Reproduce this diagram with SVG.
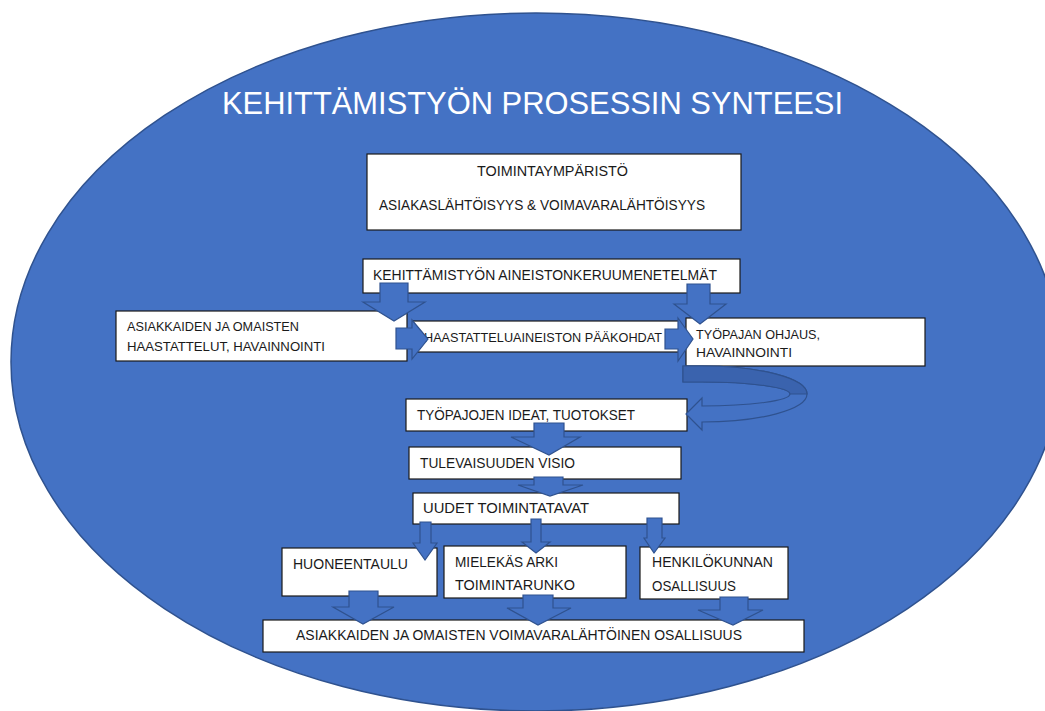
<svg xmlns="http://www.w3.org/2000/svg" width="1045" height="711" viewBox="0 0 1045 711">
<style>
.bg{fill:#4472C4;stroke:#2F528F;stroke-width:1.5}
.box{fill:#FFFFFF;stroke:#1a1a1a;stroke-width:1.2}
.t{font-family:"Liberation Sans",Arial,sans-serif;font-size:15px;fill:#1a1a1a}
.ts{font-family:"Liberation Sans",Arial,sans-serif;font-size:13px;fill:#1a1a1a}
.title{font-family:"Liberation Sans",Arial,sans-serif;font-size:31px;fill:#FFFFFF}
.arr{fill:#4472C4;stroke:#2F528F;stroke-width:1.2;stroke-linejoin:miter}
.arrd{fill:#3A63AE;stroke:#2F528F;stroke-width:1.2}
</style>
<rect width="1045" height="711" fill="#FFFFFF"/>
<ellipse class="bg" cx="536" cy="362" rx="525" ry="349"/>
<text class="title" x="222" y="114" textLength="621" lengthAdjust="spacingAndGlyphs">KEHITTÄMISTYÖN PROSESSIN SYNTEESI</text>

<g id="n-toimintaymparisto">
<rect class="box" x="367" y="154" width="374" height="76"/>
<text class="t" x="477" y="176" textLength="151" lengthAdjust="spacingAndGlyphs">TOIMINTAYMPÄRISTÖ</text>
<text class="t" x="379" y="210" textLength="326" lengthAdjust="spacingAndGlyphs">ASIAKASLÄHTÖISYYS &amp; VOIMAVARALÄHTÖISYYS</text>
</g>
<g id="n-kehittamistyon">
<rect class="box" x="363" y="259" width="377" height="34"/>
<text class="t" x="373" y="280" textLength="344" lengthAdjust="spacingAndGlyphs">KEHITTÄMISTYÖN AINEISTONKERUUMENETELMÄT</text>
</g>
<g id="n-asiakkaiden-haastattelut">
<rect class="box" x="116" y="311" width="291" height="50"/>
<text class="ts" x="127" y="331" textLength="172" lengthAdjust="spacingAndGlyphs">ASIAKKAIDEN JA OMAISTEN</text>
<text class="ts" x="127" y="351" textLength="198" lengthAdjust="spacingAndGlyphs">HAASTATTELUT, HAVAINNOINTI</text>
</g>
<g id="n-haastatteluaineisto">
<rect class="box" x="413" y="321" width="266" height="31"/>
<text class="ts" x="424" y="342" textLength="238" lengthAdjust="spacingAndGlyphs">HAASTATTELUAINEISTON PÄÄKOHDAT</text>
</g>
<g id="n-tyopajan-ohjaus">
<rect class="box" x="686" y="318" width="239" height="48"/>
<text class="ts" x="696" y="339" textLength="124" lengthAdjust="spacingAndGlyphs">TYÖPAJAN OHJAUS,</text>
<text class="ts" x="696" y="357" textLength="96" lengthAdjust="spacingAndGlyphs">HAVAINNOINTI</text>
</g>
<g id="n-tyopajojen-ideat">
<rect class="box" x="406" y="399" width="281" height="32"/>
<text class="t" x="417" y="420" textLength="218" lengthAdjust="spacingAndGlyphs">TYÖPAJOJEN IDEAT, TUOTOKSET</text>
</g>
<g id="n-tulevaisuuden-visio">
<rect class="box" x="409" y="447" width="272" height="32"/>
<text class="t" x="420" y="468" textLength="155" lengthAdjust="spacingAndGlyphs">TULEVAISUUDEN VISIO</text>
</g>
<g id="n-uudet-toimintatavat">
<rect class="box" x="413" y="493" width="266" height="31"/>
<text class="t" x="423" y="513" textLength="166" lengthAdjust="spacingAndGlyphs">UUDET TOIMINTATAVAT</text>
</g>
<g id="n-huoneentaulu">
<rect class="box" x="282" y="548" width="155" height="48"/>
<text class="t" x="293" y="569" textLength="115" lengthAdjust="spacingAndGlyphs">HUONEENTAULU</text>
</g>
<g id="n-mielekas-arki">
<rect class="box" x="444" y="546" width="182" height="52"/>
<text class="t" x="455" y="567" textLength="103" lengthAdjust="spacingAndGlyphs">MIELEKÄS ARKI</text>
<text class="t" x="455" y="590" textLength="120" lengthAdjust="spacingAndGlyphs">TOIMINTARUNKO</text>
</g>
<g id="n-henkilokunnan">
<rect class="box" x="640" y="547" width="148" height="52"/>
<text class="t" x="652" y="567" textLength="121" lengthAdjust="spacingAndGlyphs">HENKILÖKUNNAN</text>
<text class="t" x="652" y="591" textLength="84" lengthAdjust="spacingAndGlyphs">OSALLISUUS</text>
</g>
<g id="n-osallisuus">
<rect class="box" x="263" y="620" width="541" height="32"/>
<text class="t" x="296" y="640" textLength="446" lengthAdjust="spacingAndGlyphs">ASIAKKAIDEN JA OMAISTEN VOIMAVARALÄHTÖINEN OSALLISUUS</text>
</g>

<g id="connectors">
<path class="arr" d="M380,283 L408,283 L408,302 L425,302 L394,321 L363,302 L380,302 Z"/>
<path class="arr" d="M687,284 L710,284 L710,304 L726,304 L700,324 L674,304 L687,304 Z"/>
<path class="arr" d="M396,328 L412,328 L412,320 L428,339 L412,359 L412,349 L396,349 Z"/>
<path class="arr" d="M665,329 L678,329 L678,318 L693,339 L678,361 L678,349 L665,349 Z"/>
<path class="arr" d="M683,366 L702,366 A105,28 0 0 1 702,422 L702,430 L686,414 L702,398 L702,406 A88,12 0 0 0 702,382 L683,382 Z"/>
<path class="arrd" d="M683,366 L702,366 A105,28 0 0 1 807,394 L790,394 A88,12 0 0 0 702,382 L683,382 Z"/>
<path class="arr" d="M534,423 L564,423 L564,437 L580,437 L549,455 L511,437 L534,437 Z"/>
<path class="arr" d="M534,477 L563,477 L563,485 L583,485 L550,496 L518,485 L534,485 Z"/>
<path class="arr" d="M420,522 L431,522 L431,543 L437,543 L425,560 L413,543 L420,543 Z"/>
<path class="arr" d="M531,519 L541,519 L541,542 L550,542 L536,553 L522,542 L531,542 Z"/>
<path class="arr" d="M647,518 L662,518 L662,538 L665,538 L654,553 L644,538 L647,538 Z"/>
<path class="arr" d="M349,591 L378,591 L378,607 L394,607 L363,624 L333,607 L349,607 Z"/>
<path class="arr" d="M523,595 L553,595 L553,608 L571,608 L538,625 L507,608 L523,608 Z"/>
<path class="arr" d="M720,597 L748,597 L748,610 L763,610 L733,625 L698,610 L720,610 Z"/>
</g>
</svg>
